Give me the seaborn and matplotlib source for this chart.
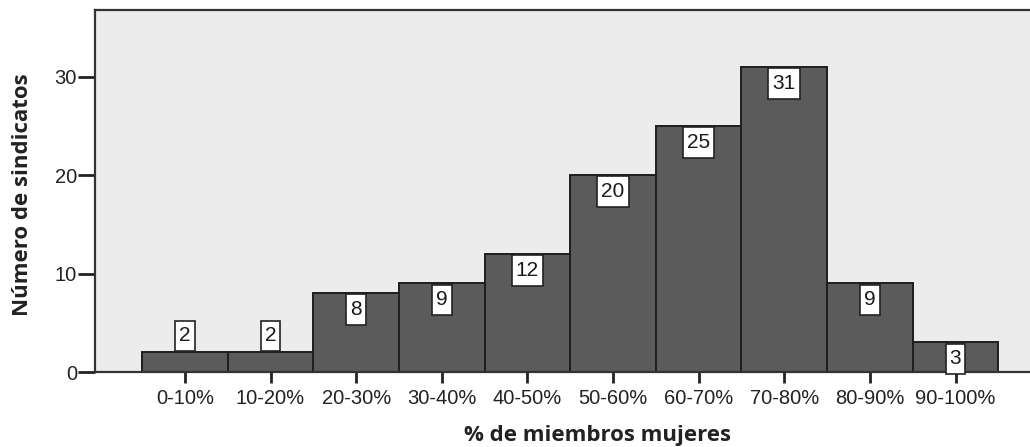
import matplotlib
matplotlib.use("Agg")
import matplotlib.pyplot as plt
from matplotlib.path import Path
import seaborn as sns
import pandas as pd

categories = ['0-10%', '10-20%', '20-30%', '30-40%', '40-50%',
              '50-60%', '60-70%', '70-80%', '80-90%', '90-100%']
counts = [2, 2, 8, 9, 12, 20, 25, 31, 9, 3]
y_ticks = [0, 10, 20, 30]

df = pd.DataFrame({'rango': categories, 'n': counts})


def caja_alta(x0, y0, width, height, mutation_size):
    # caja rectangular con mas relleno vertical que horizontal
    px = 0.2 * mutation_size
    py = 0.28 * mutation_size
    x0, y0 = x0 - px, y0 - py
    x1, y1 = x0 + width + 2 * px, y0 + height + 2 * py
    return Path([(x0, y0), (x1, y0), (x1, y1), (x0, y1), (x0, y0)],
                closed=True)


sns.set_style("white")
plt.rcParams['font.family'] = ['Liberation Sans', 'DejaVu Sans']

fig = plt.figure(figsize=(10.3, 4.47), dpi=100)
ax = fig.add_axes([95 / 1030, 1 - 372 / 447, 935 / 1030, 362 / 447])
ax.set_facecolor('#ececec')

sns.barplot(data=df, x='rango', y='n', color='#5b5b5b', width=1.0,
            edgecolor='#1e1e1e', linewidth=1.4, saturation=1, ax=ax)

# etiquetas en cajas blancas
for p, v in zip(ax.patches, counts):
    x = p.get_x() + p.get_width() / 2
    h = p.get_height()
    if v >= 3:
        off, va = -5.0, 'top'
    else:
        off, va = 5.0, 'bottom'
    ax.annotate(str(v), (x, h), xytext=(0, off), textcoords='offset points',
                ha='center', va=va, fontsize=15, color='#1a1a1a',
                bbox=dict(boxstyle=caja_alta, fc='white', ec='#222222', lw=1.2))

ax.set_xlim(-1.05, 9.87)
ax.set_ylim(0, 36.8)
ax.set_yticks(y_ticks)
ax.tick_params(axis='both', labelsize=14.5, labelcolor='#222222', color='#222222',
               direction='out', length=12, width=2, bottom=True, left=True)
ax.tick_params(axis='y', pad=1)
ax.tick_params(axis='x', length=8, pad=4)
for s in ['left', 'top', 'bottom']:
    ax.spines[s].set_color('#333333')
    ax.spines[s].set_linewidth(1.6)
ax.spines['right'].set_visible(False)

ax.set_xlabel('% de miembros mujeres', fontsize=16, fontweight='bold',
              family=['Open Sans', 'DejaVu Sans'], color='#222222')
ax.set_ylabel('Número de sindicatos', fontsize=16, fontweight='bold',
              family=['Open Sans', 'DejaVu Sans'], color='#222222')
ax.xaxis.set_label_coords(0.537, -0.146)
ax.yaxis.set_label_coords(-0.066, 0.49)

fig.savefig('out.png', dpi=100, facecolor='white')
